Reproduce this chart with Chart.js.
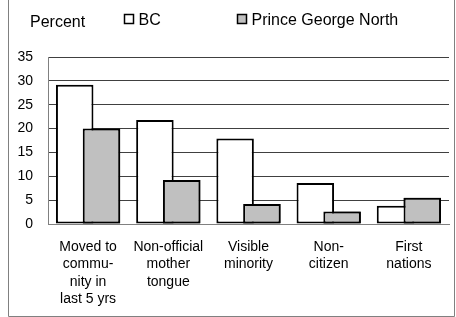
<!DOCTYPE html>
<html>
<head>
<meta charset="utf-8">
<script src="https://cdn.jsdelivr.net/npm/chart.js@4"></script>
<style>
  body { margin: 0; background: #fff; }
  #wrap { width: 456px; height: 317px; }
</style>
</head>
<body>
<div id="wrap"><canvas id="myChart" width="456" height="317"></canvas></div>
<script>
categories = [
    ['Moved to', 'commu-', 'nity in', 'last 5 yrs'],
    ['Non-official', 'mother', 'tongue'],
    ['Visible', 'minority'],
    ['Non-', 'citizen'],
    ['First', 'nations']
];
bcValues = [29.2, 21.8, 17.9, 8.6, 3.8];
pgnValues = [20.0, 9.2, 4.2, 2.6, 5.5];
seriesNames = ['BC', 'Prince George North'];
yTicks = [0, 5, 10, 15, 20, 25, 30, 35];

var FONT = "'Liberation Sans', Arial, sans-serif";

// frame round the chart + "Percent" label + legend boxes
var decor = {
    id: 'decor',
    beforeDraw: function(chart) {
        var c = chart.ctx;
        c.save();
        c.strokeStyle = '#808080';
        c.lineWidth = 1;
        c.beginPath();
        c.moveTo(8.5, 0);
        c.lineTo(8.5, 316.5);
        c.lineTo(454.5, 316.5);
        c.lineTo(454.5, 0);
        c.stroke();
        c.restore();
    },
    afterDatasetsDraw: function(chart) {
        // second series sits in front of the first one where they overlap
        chart.getDatasetMeta(1).controller.draw();
    },
    afterDraw: function(chart) {
        var c = chart.ctx;
        c.save();
        c.fillStyle = '#000';
        c.textBaseline = 'alphabetic';
        c.font = '16px ' + FONT;
        c.fillText('Percent', 30, 26.5);
        var boxX = [124.5, 237.5];
        chart.data.datasets.forEach(function(ds, i) {
            c.fillStyle = ds.backgroundColor;
            c.fillRect(boxX[i], 14.5, 9, 9);
            c.strokeStyle = '#000';
            c.lineWidth = 1.5;
            c.strokeRect(boxX[i], 14.5, 9, 9);
            c.fillStyle = '#000';
            c.fillText(ds.label, boxX[i] + 14, 25);
        });
        c.restore();
    }
};

var ctx = document.getElementById('myChart').getContext('2d');
var chart = new Chart(ctx, {
    type: 'bar',
    data: {
        labels: categories,
        datasets: [
            {label: seriesNames[0], data: bcValues, backgroundColor: '#ffffff',
             borderColor: '#000', borderWidth: 2, borderSkipped: false},
            {label: seriesNames[1], data: pgnValues, backgroundColor: '#c0c0c0',
             borderColor: '#000', borderWidth: 2, borderSkipped: false}
        ]
    },
    options: {
        responsive: false,
        animation: false,
        events: [],
        layout: {padding: {left: 8, right: 7, top: 57, bottom: 0}},
        datasets: {bar: {categoryPercentage: 0.668, barPercentage: 1.4}},
        plugins: {legend: {display: false}, tooltip: {enabled: false}},
        scales: {
            x: {
                grid: {display: false, drawTicks: false},
                border: {color: '#808080', width: 1},
                ticks: {color: '#000', font: {family: FONT, size: 14, lineHeight: 1.25},
                        padding: 14, maxRotation: 0, autoSkip: false},
                afterFit: function(s) { s.height = 93; }
            },
            y: {
                min: 0, max: 35,
                afterBuildTicks: function(s) { s.ticks = yTicks.map(function(v){ return {value: v}; }); },
                grid: {color: '#404040', lineWidth: 1, drawTicks: false},
                border: {color: '#808080', width: 1},
                ticks: {color: '#000', font: {family: FONT, size: 14}, padding: 15},
                afterFit: function(s) { s.width = 40; }
            }
        }
    },
    plugins: [decor]
});
</script>
</body>
</html>
